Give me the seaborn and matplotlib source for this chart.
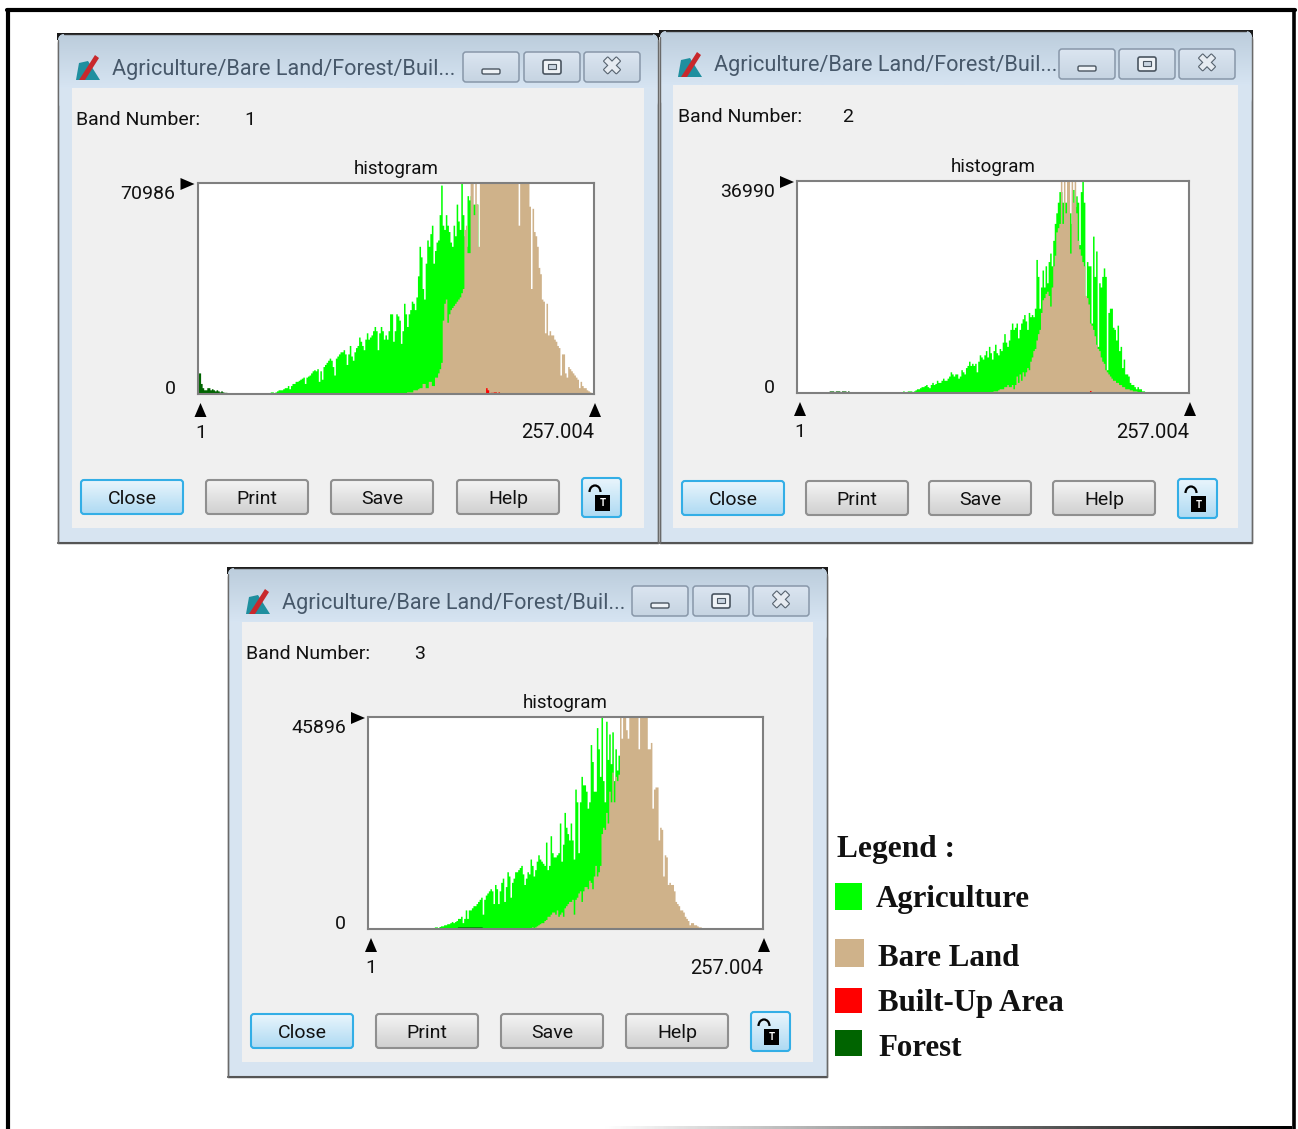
import numpy as np
import matplotlib
matplotlib.use("Agg")
import matplotlib.pyplot as plt
import matplotlib.patheffects as pe
from matplotlib.colors import to_rgb
from matplotlib.patches import Rectangle, Polygon, FancyBboxPatch, Arc
import seaborn as sns

# histogram counts, % of the y maximum, one value per DN
band1_agri = [0]*47 + [1,1,0.5,1,1.5,2,2,2,2.5,3,3,4,2.5,4,5,5,6,6,6.5,7,7.5,8,5,8,8.5,9,10,11,11.5,11,12,6,11,7,13,14,15,16,17,16,13,9,17,18,19,20,20,21,19,14,19,23,18,16,20,22,23,27,25,23,21,26,29,26,27,28,30,32,30,21,29,32,30,26,28,26,30,38,38,25,30,38,37,35,24,30,43,38,32,38,40,44,43,40,46,56,70,65,50,45,62,73,70,76,80,62,68,72,73,85,99,80,78,85,80,77,72,70,80,75,90,82,78,100,85,75,70,94,92,94,90,90,90,90]
band1_bare = [0]*133 + [0.5,0.5,1,1,1,1,2,2,2,2.5,3,3,5,5,3,3,6,6,4,4,8,8,10,12,15,35,43,45,34,38,40,41,42,43,44,45,46,48,50,78,80,67,67,100,100,85,100,90,70,100,100,100,100,100,100,100,100,100,100,100,100,100,100,100,100,100,100,100,100,100,100,100,100,100,80,100,100,100,100,100,100,89,50,88,77,75,70,60,57,45,44,29,43,28,30,28,28,26,25,23,22,9,19,19,10,8,13,12,11,10,9,8,7,3,6,4,3,3,2,1.5,1,0.5,0.5]
band1_built = [0]*186 + [3,2,0,0.8,0.8,1,1,0,1]
band1_forest = [10,10,5,3,2,2,3,3,2,2.5,2,1.5,2,1.5,1,1.5,1,0.8,0.8,0.5]

band2_agri = [0]*69 + [1,0.5,0,1,1,1,0,1,1.5,2,2,2.5,3,3,3.5,4,3,2.5,4,5,4,4.5,6,5,5,6,7,6,6,7,8,10,9,8,9,9,7,8,11,10,9,12,13,15,13,14,13,14,10,15,18,17,16,18,20,17,22,19,16,20,23,19,18,21,20,24,28,24,22,25,30,33,30,31,33,26,30,33,35,37,34,30,38,36,37,36,40,63,55,40,50,58,50,60,52,62,66,60,72,80,85,90,95,95,90,90,90,90,85,85,80,96,88,93,90,70,95,100,90,45,62,60,60,33,74,55,67,22,52,50,55,59,55,11,38,40,40,31,30,25,32,20,22,12,16,9,9,8,5,4,4,3,2,3,2,2,1,1]
band2_bare = [0]*125 + [0.3,0.5,0.5,1,1,1,1.5,2,2,2,3,3,4,3,3,4,2,4,8,5,9,6,10,8,10,12,11,15,17,20,21,25,28,30,38,44,45,47,48,46,41,50,60,65,76,78,80,100,80,100,85,100,100,66,100,90,100,85,72,68,65,62,60,46,45,42,33,32,30,27,23,21,20,17,15,14,11,10,9,8,7,6,6,5,5,4,4,3,3,2,2,2,1.5,1.5,1,1,1,0.5,0.5]
band2_built = [0]*191 + [1.2]
band2_forest = [0]*21 + [1,1,1,0,1,1,1,0,1,1,1,0,1]

band3_agri = [0]*43 + [1,1,0.6,1.2,1.5,1.5,2,2,2.5,2.5,3,3.5,3,3.5,4,5,5,6,3,5,9,5,9,9,10,11,11,12,13,14,15,7,14,16,17,18,19,18,12,21,19,12,18,22,24,13,20,27,25,15,22,24,27,27,28,29,30,26,21,24,27,26,33,30,25,28,32,35,33,32,31,30,41,28,30,44,36,34,34,35,36,50,32,40,55,48,45,42,50,42,33,66,60,36,60,72,68,68,65,57,60,87,79,65,65,95,85,72,100,70,60,98,80,92,78,93,70,85,75,82]
band3_bare = [0]*103 + [0.3,0.3,0.5,1,0.5,1,1.5,2,2.5,3,3,4,4.5,6,6,7,8,8,7,9,6,7,8,6,10,11,12,13,13,14,7,14,15,17,18,13,18,20,20,19,23,22,19,25,30,25,27,30,45,48,47,55,50,65,60,74,60,72,70,73,100,90,100,100,94,90,100,100,100,100,100,100,85,100,100,100,100,100,85,85,88,57,66,67,67,42,48,47,25,35,34,21,22,21,21,18,13,12,11,9,9,8,6,5,4,2,3,3,2,2,1.5,1,1,0.5,0.5]
band3_forest = [0]*58 + [1,1,1,1,1,1,1,1,1,1,1,1,1,1,1,1,0.6]

bin_centers = np.arange(1.5, 257.5, 1)
y_max_labels = ["70986", "36990", "45896"]
band_numbers = ["1", "2", "3"]
legend_names = ["Agriculture", "Bare Land", "Built-Up Area", "Forest"]
button_names = ["Close", "Print", "Save", "Help"]

GREEN, TAN, RED, DARK = "#00ff00", "#cfb28a", "#ff0000", "#006400"
W, H = 1298, 1129
TXT = 14

sns.set_theme(style="white")
plt.rcParams["font.family"] = ["Roboto", "DejaVu Sans"]

fig = plt.figure(figsize=(W/100, H/100), dpi=100, facecolor="white")
bg = fig.add_axes([0, 0, 1, 1], zorder=0)
bg.axis("off")


def reset():
    bg.set_xlim(0, W)
    bg.set_ylim(H, 0)


def grad(x0, y0, x1, y1, top, bot, z=1.0, clip=None):
    img = np.linspace(to_rgb(top), to_rgb(bot), 32).reshape(32, 1, 3)
    im = bg.imshow(img, extent=(x0, x1, y1, y0), aspect="auto", zorder=z)
    if clip is not None:
        im.set_clip_path(clip)
    reset()


def button(x0, y0, x1, y1, label=None, active=False, top="#f4f4f4", bot="#d0d0d0", edge="#8f8f8f", lw=1.5):
    if active:
        top, bot, edge = "#e9f5fc", "#aedaf3", "#33aee6"
    patch = FancyBboxPatch((x0, y0), x1-x0, y1-y0, boxstyle="round,pad=0,rounding_size=3",
                           fc=top, ec="none", zorder=3)
    bg.add_patch(patch)
    grad(x0, y0, x1, y1, top, bot, z=3.1, clip=patch)
    bg.add_patch(FancyBboxPatch((x0, y0), x1-x0, y1-y0, boxstyle="round,pad=0,rounding_size=3",
                                fc="none", ec=edge, lw=lw, zorder=3.2))
    if label:
        bg.text((x0+x1)/2, (y0+y1)/2+2, label, ha="center", va="center", fontsize=TXT, color="#111111", zorder=4)


def window(box, client, plot, caption_x, caption_y, button_x, button_y, band, band_x, ymax_label, series):
    x0, y0, x1, y1 = box
    cx0, cy0, cx1, cy1 = client
    px0, py0, px1, py1 = plot

    # frame and title bar, black corners show behind the rounding
    bg.add_patch(Rectangle((x0-1, y0-1), x1-x0+2, 7, fc="#1a1a1a", ec="none", zorder=0.9))
    bg.add_patch(Rectangle((x0, y0+8), x1-x0, y1-y0-8, fc="#d7e4f1", ec="#6a6a6a", lw=1, zorder=1.05))
    frame = FancyBboxPatch((x0, y0), x1-x0, cy0-y0+20, boxstyle="round,pad=0,rounding_size=7",
                           fc="#d7e4f1", ec="none", zorder=1.06)
    bg.add_patch(frame)
    grad(x0, y0, x1, cy0, "#bccddc", "#d6e4f2", z=1.1, clip=frame)
    bg.plot([x0, x1], [y1, y1], color="#555555", lw=1.5, zorder=1.2)
    bg.plot([x0+6, x1-6], [y0, y0], color="#333333", lw=1, zorder=1.2)
    bg.plot([x0, x0], [y0+6, y1], color="#6a6a6a", lw=1, zorder=1.2)
    bg.plot([x1, x1], [y0+6, y1], color="#6a6a6a", lw=1, zorder=1.2)
    bg.add_patch(Rectangle((cx0, cy0), cx1-cx0, cy1-cy0, fc="#f0f0f0", ec="none", zorder=2))

    # app icon
    ix, iy = x0+18, y0+21
    bg.add_patch(Polygon([(ix, iy+25), (ix+3, iy+8), (ix+12, iy+6), (ix+24, iy+25)], fc="#1f8f9f", ec="none", zorder=3))
    bg.add_patch(Polygon([(ix+3, iy+25), (ix+19, iy), (ix+23, iy+3), (ix+9, iy+25)], fc="#c8282c", ec="none", zorder=3.1))

    bg.text(x0+54, y0+35, "Agriculture/Bare Land/Forest/Buil...", va="center", ha="left", fontsize=15.6, color="#47586a", zorder=4)
    for i, cx in enumerate(caption_x):
        button(cx, caption_y, cx+56, caption_y+30, top="#dbe5f0", bot="#c6d4e2", edge="#8897a9", lw=1.1)
        mx, my = cx+28, caption_y+15
        if i == 0:
            bg.add_patch(FancyBboxPatch((mx-9, my+2), 18, 5, boxstyle="round,pad=0,rounding_size=1.5", fc="#eef2f6", ec="#4a5560", lw=1, zorder=5))
        elif i == 1:
            bg.add_patch(FancyBboxPatch((mx-9, my-7), 18, 14, boxstyle="round,pad=0,rounding_size=2", fc="#eef2f6", ec="#4a5560", lw=1.2, zorder=5))
            bg.add_patch(Rectangle((mx-4, my-3), 8, 5, fc="#c9d5e1", ec="#4a5560", lw=0.8, zorder=5.1))
        else:
            bg.text(mx, my, "✖", ha="center", va="center", fontsize=17, family="DejaVu Sans", color="#e6ebf1", zorder=5,
                    path_effects=[pe.withStroke(linewidth=1.6, foreground="#56626e")])

    bg.text(x0+18, y0+86, "Band Number:", va="center", fontsize=TXT, color="#111111", zorder=4)
    bg.text(band_x, y0+86, band, va="center", fontsize=TXT, color="#111111", zorder=4)

    bg.text((px0+px1)/2, py0-14, "histogram", ha="center", va="center", fontsize=13.5, color="#111111", zorder=4)
    bg.text(px0-22, py0+11, ymax_label, ha="right", va="center", fontsize=TXT, color="#111111", zorder=4)
    bg.text(px0-22, py1-5, "0", ha="right", va="center", fontsize=TXT, color="#111111", zorder=4)
    bg.text(px0+3, py1+39, "1", ha="center", va="center", fontsize=TXT, color="#111111", zorder=4)
    bg.text(px1, py1+39, "257.004", ha="right", va="center", fontsize=14.5, color="#111111", zorder=4)

    # stretch handles
    bg.add_patch(Polygon([(px0-17, py0-5), (px0-3, py0+1), (px0-17, py0+7)], fc="black", ec="none", zorder=4))
    for hx in (px0+3, px1+1):
        bg.add_patch(Polygon([(hx-6, py1+23), (hx, py1+9), (hx+6, py1+23)], fc="black", ec="none", zorder=4))

    for i, bx in enumerate(button_x):
        button(bx, button_y, bx+102, button_y+34, button_names[i], active=(i == 0))
    lx = button_x[3] + 125
    button(lx, button_y-2, lx+39, button_y+37, active=True)
    bg.add_patch(Rectangle((lx+13, button_y+15), 15, 16, fc="black", ec="none", zorder=5))
    bg.text(lx+20.5, button_y+23.5, "T", color="white", ha="center", va="center", fontsize=7, fontweight="bold", zorder=6)
    bg.add_patch(Arc((lx+13, button_y+12), 11, 13, theta1=180, theta2=360, ec="black", lw=1.6, zorder=5))

    # the histogram itself
    ax = fig.add_axes([px0/W, 1-py1/H, (px1-px0)/W, (py1-py0)/H], zorder=2)
    ax.set_facecolor("white")
    for values, color in series:
        padded = list(values) + [0]*(len(bin_centers)-len(values))
        sns.histplot(x=bin_centers, weights=padded, bins=256, binrange=(1, 257), element="step",
                     fill=True, color=color, alpha=1, linewidth=0, ax=ax)
    ax.set_xlim(1, 257)
    ax.set_ylim(0, 100)
    ax.set_xticks([])
    ax.set_yticks([])
    ax.set_xlabel("")
    ax.set_ylabel("")
    for s in ax.spines.values():
        s.set_color("#7f7f7f")
        s.set_linewidth(1.5)


reset()
window((58, 34, 658, 543), (72, 88, 644, 528), (197.5, 183, 594, 394), (463, 524, 584), 52,
       (81, 206, 331, 457), 480, band_numbers[0], 244, y_max_labels[0],
       [(band1_agri, GREEN), (band1_bare, TAN), (band1_built, RED), (band1_forest, DARK)])
window((660, 31, 1252, 543), (673, 85, 1238, 528), (797, 181, 1189, 393), (1059, 1119, 1179), 49,
       (682, 806, 929, 1053), 481, band_numbers[1], 842, y_max_labels[1],
       [(band2_agri, GREEN), (band2_bare, TAN), (band2_built, RED), (band2_forest, DARK)])
window((228, 568, 827, 1077), (242, 622, 813, 1062), (368, 717, 763, 929), (632, 693, 753), 586,
       (251, 376, 501, 626), 1014, band_numbers[2], 414, y_max_labels[2],
       [(band3_agri, GREEN), (band3_bare, TAN), (band3_forest, DARK)])

# page border
bg.plot([8, 8], [10, H], color="black", lw=3, zorder=0.5)
bg.plot([7, 1295], [10, 10], color="black", lw=3, zorder=0.5)
bg.plot([1294, 1294], [10, H], color="black", lw=2.6, zorder=0.5)
fade = np.linspace(to_rgb("#ffffff"), to_rgb("#000000"), 64).reshape(1, 64, 3)
bg.imshow(fade, extent=(600, 1292, 1129, 1126), aspect="auto", zorder=0.5)
reset()

# legend
bg.text(837, 850, "Legend :", family="Liberation Serif", fontweight="bold", fontsize=22.6, va="center", color="#111111")
swatches = [(835, 883, 27, 27, GREEN), (835, 939, 29, 28, TAN), (835, 988, 27, 25, RED), (835, 1030, 27, 26, DARK)]
label_pos = [(876, 900), (878, 958), (878, 1004), (878, 1048)]
for (sx, sy, sw, sh, c), (tx, ty), name in zip(swatches, label_pos, legend_names):
    bg.add_patch(Rectangle((sx, sy), sw, sh, fc=c, ec="none"))
    bg.text(tx, ty, name, family="Liberation Serif", fontweight="bold", fontsize=22.2, va="center", color="#111111")

fig.savefig("out.png", dpi=100)
